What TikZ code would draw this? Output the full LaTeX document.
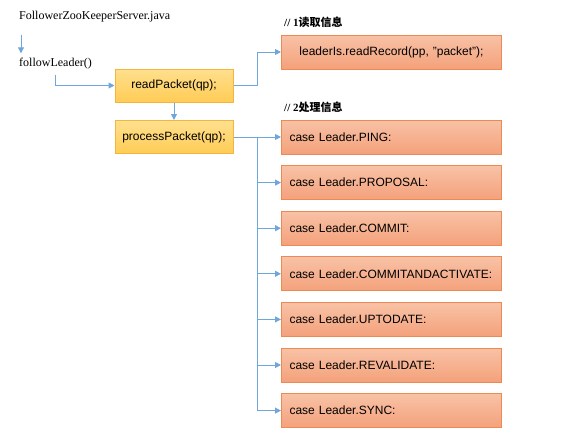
\documentclass[tikz,border=0pt]{standalone}
\usepackage{fontspec}
\setmainfont{Liberation Serif}
\setsansfont{Liberation Sans}
\newfontfamily\cjk{Noto Sans CJK SC}
\usetikzlibrary{arrows.meta}
\definecolor{ln}{HTML}{6FA6DC}
\definecolor{ytop}{HTML}{FFE08E}
\definecolor{ybot}{HTML}{FFCC55}
\definecolor{ybd}{HTML}{F5B43C}
\definecolor{otop}{HTML}{F8C2A6}
\definecolor{obot}{HTML}{F4A17B}
\definecolor{obd}{HTML}{EC8A55}
\begin{document}
\begin{tikzpicture}[x=1pt,y=-1pt,
  ybox/.style={draw=ybd, line width=1pt, top color=ytop, bottom color=ybot,
    minimum width=118pt, minimum height=33pt, inner sep=0pt,
    font=\sffamily\fontsize{12}{14}\selectfont},
  obox/.style={draw=obd, line width=1pt, top color=otop, bottom color=obot,
    minimum height=34pt, inner xsep=8pt, inner ysep=0pt, text width=204pt, align=left,
    font=\sffamily\fontsize{12}{14}\selectfont},
  ctext/.style={inner sep=0pt, anchor=west, font=\rmfamily\fontsize{12}{14}\selectfont},
  lbl/.style={inner sep=0pt, anchor=west, font=\rmfamily\bfseries\fontsize{11}{13}\selectfont},
  conn/.style={draw=ln, line width=1pt, -{Triangle[length=6pt,width=6pt]}},
  bus/.style={draw=ln, line width=1pt}
]
\useasboundingbox (0,0) rectangle (587,434);
\node[ctext] (fzk) at (19,17) {FollowerZooKeeperServer.java};
\node[ctext] (fl) at (19,64) {followLeader()};
\node[ybox] (rp) at (174,85.5) {readPacket(qp);};
\node[ybox] (pp) at (174,137) {processPacket(qp);};
\node[obox, align=center] (rr) at (391.5,52) {leaderIs.readRecord(pp, "packet");};
\node[lbl] (l1) at (284,22) {// 1{\cjk\bfseries 读取信息}};
\node[lbl] (l2) at (284,107) {// 2{\cjk\bfseries 处理信息}};
\node[obox] (c1) at (391.5,137) {case Leader.PING:};
\node[obox] (c2) at (391.5,182.6) {case Leader.PROPOSAL:};
\node[obox] (c3) at (391.5,228.2) {case Leader.COMMIT:};
\node[obox] (c4) at (391.5,273.8) {case Leader.COMMITANDACTIVATE:};
\node[obox] (c5) at (391.5,319.4) {case Leader.UPTODATE:};
\node[obox] (c6) at (391.5,365) {case Leader.REVALIDATE:};
\node[obox] (c7) at (391.5,410.6) {case Leader.SYNC:};
\draw[conn] ([xshift=2pt,yshift=-12pt]fzk.south west) -- ([xshift=2pt,yshift=5pt]fl.north west);
\draw[conn] ([yshift=-5pt]fl.south) |- (rp.west);
\draw[conn] (rp.south) -- (pp.north);
\draw[conn] (rp.east) -| ([xshift=-24pt]rr.west) -- (rr.west);
\draw[bus] (pp.east) -- ++(24,0) coordinate (b);
\foreach \c in {c1,c2,c3,c4,c5,c6,c7}{
  \draw[conn] (b) |- (\c.west);
}
\end{tikzpicture}
\end{document}
